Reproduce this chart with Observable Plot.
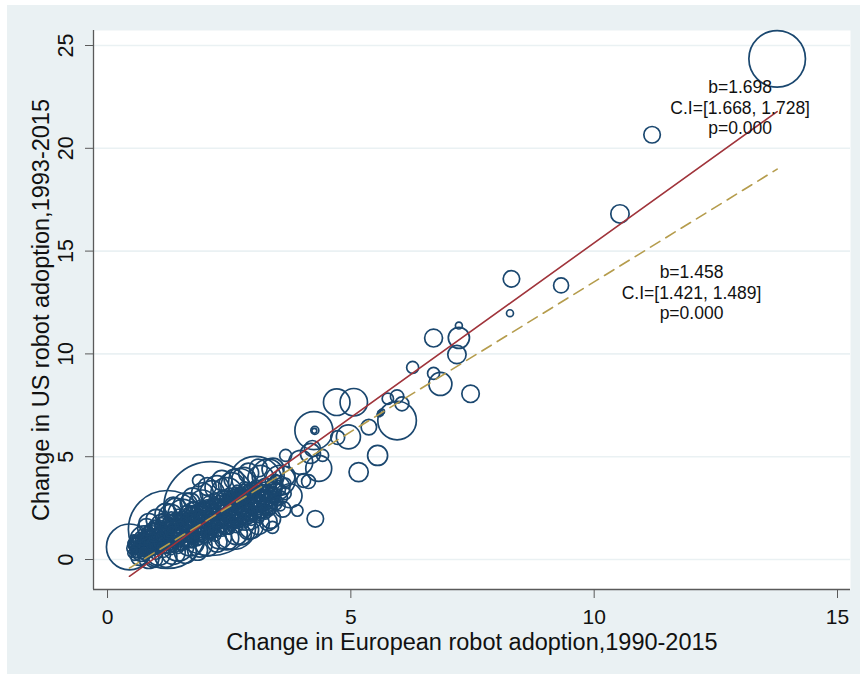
<!DOCTYPE html>
<html>
<head>
<meta charset="utf-8">
<script src="https://cdn.jsdelivr.net/npm/d3@7"></script>
<script src="https://cdn.jsdelivr.net/npm/@observablehq/plot@0.6"></script>
<style>
  html, body { margin: 0; padding: 0; background: #ffffff; }
  #wrap { position: relative; width: 860px; height: 674px; overflow: hidden; }
  #panel { position: absolute; left: 7px; top: 5px; right: 0; bottom: 0; background: #eaf1f3; }
  #chart { position: absolute; left: 0; top: 0; }
</style>
</head>
<body>
<div id="wrap"><div id="panel"></div><div id="chart"></div></div>
<script>
// Change in robot adoption by industry: Europe (1990-2015) vs US (1993-2015),
// bubble area proportional to industry weight.

const euroChange = [
  // isolated industries
  13.76, 11.19, 10.53, 8.30, 9.32, 8.27, 7.22, 7.22, 7.18, 7.46,
  6.84, 6.70, 6.70, 6.27, 5.95, 5.76, 5.95, 6.05, 5.61, 5.58,
  5.64, 4.71, 5.06, 4.24, 4.26, 4.25, 5.37, 4.95, 4.73, 5.55,
  5.16, 4.27, 3.90, 3.66, 3.97, 4.34, 4.13, 4.21, 4.42, 4.17,
  4.03, 3.39,
  // larger industries in the main cloud
  0.45, 1.23, 2.12, 0.75, 0.95, 0.70, 1.05, 1.45, 1.70, 1.55,
  1.30, 1.87, 1.95, 2.30, 2.59, 2.45, 2.70, 3.04, 2.95, 3.35,
  3.30, 3.55, 3.20, 3.75, 3.60, 2.85, 1.80, 2.40, 1.10, 0.60,
  0.85, 1.40, 1.70, 2.15, 2.60, 3.10, 0.95, 1.90, 2.75,
  // small industries in the main cloud
  0.50, 0.52, 0.49,
  0.56, 0.55, 0.57, 0.54,
  0.62, 0.63, 0.61, 0.64,
  0.70, 0.71, 0.69, 0.72, 0.70,
  0.78, 0.77, 0.79, 0.78,
  0.85, 0.86, 0.84, 0.87, 0.85,
  0.93, 0.92, 0.94, 0.93, 0.95,
  1.00, 1.01, 0.99, 1.02, 1.00,
  1.08, 1.07, 1.09, 1.08, 1.10,
  1.15, 1.16, 1.14, 1.15, 1.17, 1.15,
  1.23, 1.22, 1.24, 1.23, 1.25,
  1.30, 1.31, 1.29, 1.32, 1.30, 1.31,
  1.38, 1.37, 1.39, 1.38, 1.40,
  1.45, 1.46, 1.44, 1.45, 1.47, 1.45,
  1.53, 1.52, 1.54, 1.53, 1.55,
  1.60, 1.61, 1.59, 1.62, 1.60, 1.61,
  1.68, 1.67, 1.69, 1.68, 1.70,
  1.75, 1.76, 1.74, 1.77, 1.75, 1.76,
  1.83, 1.82, 1.84, 1.83, 1.85,
  1.90, 1.91, 1.89, 1.92, 1.90, 1.91,
  1.98, 1.97, 1.99, 1.98, 2.00,
  2.05, 2.06, 2.04, 2.07, 2.05, 2.06,
  2.13, 2.12, 2.14, 2.13, 2.15,
  2.20, 2.21, 2.19, 2.22, 2.20, 2.21,
  2.28, 2.27, 2.29, 2.28, 2.30,
  2.35, 2.36, 2.34, 2.37, 2.35, 2.36,
  2.43, 2.42, 2.44, 2.43, 2.45,
  2.50, 2.51, 2.49, 2.52, 2.50, 2.51,
  2.58, 2.57, 2.59, 2.58, 2.60,
  2.65, 2.66, 2.64, 2.67, 2.65, 2.66,
  2.73, 2.72, 2.74, 2.73, 2.75,
  2.80, 2.81, 2.79, 2.82, 2.80, 2.81,
  2.88, 2.87, 2.89, 2.88, 2.90,
  2.95, 2.96, 2.94, 2.97, 2.95,
  3.03, 3.02, 3.04, 3.03, 3.05,
  3.10, 3.11, 3.09, 3.12, 3.10,
  3.18, 3.17, 3.19, 3.18,
  3.25, 3.26, 3.24, 3.27, 3.25,
  3.35, 3.34, 3.36, 3.35,
  3.45, 3.44, 3.46, 3.45,
  3.55, 3.56, 3.54,
  3.65, 3.66,
  // more small industries in the main cloud
  0.53, 0.53,
  0.59, 0.59, 0.60,
  0.66, 0.67, 0.65,
  0.74, 0.73, 0.75, 0.74,
  0.82, 0.81, 0.83, 0.82,
  0.89, 0.90, 0.88, 0.89, 0.91,
  0.97, 0.96, 0.98, 0.97,
  1.04, 1.05, 1.03, 1.04, 1.06,
  1.12, 1.11, 1.13, 1.12, 1.14,
  1.19, 1.20, 1.18, 1.19, 1.21,
  1.27, 1.26, 1.28, 1.27, 1.29,
  1.34, 1.35, 1.33, 1.34, 1.36,
  1.42, 1.41, 1.43, 1.42, 1.44,
  1.49, 1.50, 1.48, 1.49, 1.51,
  1.57, 1.56, 1.58, 1.57, 1.59,
  1.64, 1.65, 1.63, 1.64, 1.66,
  1.72, 1.71, 1.73, 1.72, 1.74,
  1.79, 1.80, 1.78, 1.79, 1.81,
  1.87, 1.86, 1.88, 1.87, 1.89,
  1.94, 1.95, 1.93, 1.94, 1.96,
  2.02, 2.01, 2.03, 2.02, 2.04,
  2.09, 2.10, 2.08, 2.09, 2.11,
  2.17, 2.16, 2.18, 2.17, 2.19,
  2.24, 2.25, 2.23, 2.24, 2.26,
  2.32, 2.31, 2.33, 2.32, 2.34,
  2.39, 2.40, 2.38, 2.39, 2.41,
  2.47, 2.46, 2.48, 2.47, 2.49,
  2.54, 2.55, 2.53, 2.54, 2.56,
  2.62, 2.61, 2.63, 2.62, 2.64,
  2.69, 2.70, 2.68, 2.69, 2.71,
  2.77, 2.76, 2.78, 2.77, 2.79,
  2.84, 2.85, 2.83, 2.84, 2.86,
  2.92, 2.91, 2.93, 2.92,
  2.99, 3.00, 2.98, 2.99, 3.01,
  3.07, 3.06, 3.08, 3.07,
  3.14, 3.15, 3.13, 3.14,
  3.22, 3.21, 3.23, 3.22,
  3.30, 3.31, 3.29, 3.30,
  3.40, 3.39, 3.41, 3.40,
  3.50, 3.49, 3.51,
  // mid-sized industries on the edges of the cloud
  0.80, 1.00, 1.20, 1.35, 1.60, 1.75, 1.95, 2.05, 2.25, 2.35,
  2.55, 2.80, 2.90, 3.15, 3.40, 3.50, 3.25, 3.65,
  0.65, 0.85, 1.20, 1.35, 1.60, 1.85, 2.05, 2.25, 2.45, 2.65,
  2.90, 3.10, 3.30,
  1.50, 2.00, 2.50, 3.00, 1.00, 2.70
];

const usChange = [
  24.35, 20.66, 16.81, 13.65, 13.33, 11.98, 11.38, 10.78, 9.97, 8.06,
  8.54, 10.77, 9.05, 9.34, 6.76, 7.82, 7.93, 7.57, 7.12, 7.04,
  7.20, 7.65, 7.65, 6.27, 6.28, 6.26, 6.44, 5.96, 5.93, 5.06,
  4.25, 1.98, 2.38, 5.06, 4.72, 4.43, 3.79, 5.40, 5.06, 5.16,
  3.84, 1.56,
  0.61, 1.46, 2.48, 0.95, 1.20, 0.40, 0.30, 0.70, 0.85, 2.20,
  2.10, 3.84, 2.75, 1.10, 1.56, 3.20, 3.55, 3.70, 1.60, 2.00,
  4.10, 3.85, 2.70, 3.10, 2.45, 2.40, 1.90, 2.60, 1.70, 0.80,
  1.75, 2.45, 2.75, 3.25, 3.90, 4.45, 0.05, 0.70, 1.20,
  0.30, 0.55, 0.80,
  0.20, 0.45, 0.70, 1.00,
  0.35, 0.60, 0.85, 1.15,
  0.25, 0.50, 0.75, 1.00, 1.30,
  0.40, 0.65, 0.95, 1.25,
  0.30, 0.55, 0.85, 1.10, 1.45,
  0.45, 0.75, 1.05, 1.35, 1.70,
  0.35, 0.65, 0.95, 1.25, 1.60,
  0.50, 0.80, 1.10, 1.40, 1.80,
  0.40, 0.70, 1.00, 1.30, 1.65, 2.00,
  0.55, 0.90, 1.20, 1.50, 1.85,
  0.45, 0.75, 1.05, 1.40, 1.70, 2.10,
  0.65, 0.95, 1.25, 1.60, 1.95,
  0.55, 0.85, 1.15, 1.50, 1.85, 2.25,
  0.75, 1.05, 1.40, 1.75, 2.10,
  0.70, 1.00, 1.30, 1.65, 2.00, 2.40,
  0.85, 1.20, 1.55, 1.90, 2.30,
  0.80, 1.10, 1.45, 1.80, 2.15, 2.55,
  1.00, 1.35, 1.70, 2.05, 2.45,
  0.95, 1.25, 1.60, 1.95, 2.30, 2.70,
  1.10, 1.45, 1.80, 2.15, 2.55,
  1.05, 1.35, 1.70, 2.05, 2.40, 2.85,
  1.25, 1.60, 1.95, 2.30, 2.70,
  1.20, 1.50, 1.85, 2.20, 2.55, 3.00,
  1.40, 1.75, 2.10, 2.45, 2.85,
  1.35, 1.65, 2.00, 2.35, 2.70, 3.10,
  1.55, 1.90, 2.25, 2.60, 3.00,
  1.50, 1.80, 2.15, 2.50, 2.85, 3.25,
  1.70, 2.05, 2.40, 2.75, 3.15,
  1.60, 1.95, 2.30, 2.65, 3.00, 3.40,
  1.85, 2.20, 2.55, 2.90, 3.30,
  1.75, 2.10, 2.45, 2.80, 3.15, 3.55,
  2.00, 2.35, 2.70, 3.05, 3.45,
  1.90, 2.25, 2.60, 2.95, 3.35,
  2.15, 2.50, 2.85, 3.20, 3.60,
  2.05, 2.40, 2.75, 3.10, 3.50,
  2.30, 2.65, 3.00, 3.40,
  2.20, 2.55, 2.90, 3.30, 3.75,
  2.45, 2.85, 3.20, 3.60,
  2.70, 3.05, 3.45, 3.90,
  2.60, 3.00, 3.40,
  3.20, 3.70,
  0.42, 0.68,
  0.30, 0.58, 0.88,
  0.48, 0.72, 1.02,
  0.38, 0.62, 0.88, 1.15,
  0.50, 0.78, 1.05, 1.35,
  0.42, 0.70, 0.98, 1.25, 1.58,
  0.58, 0.88, 1.18, 1.50,
  0.48, 0.78, 1.08, 1.40, 1.72,
  0.62, 0.92, 1.22, 1.55, 1.90,
  0.55, 0.82, 1.12, 1.42, 1.78,
  0.68, 1.00, 1.32, 1.65, 1.98,
  0.60, 0.88, 1.18, 1.52, 1.85,
  0.78, 1.08, 1.38, 1.72, 2.08,
  0.68, 0.98, 1.30, 1.65, 2.00,
  0.88, 1.20, 1.52, 1.88, 2.25,
  0.82, 1.12, 1.45, 1.80, 2.15,
  1.00, 1.32, 1.68, 2.02, 2.40,
  0.95, 1.25, 1.60, 1.95, 2.32,
  1.12, 1.48, 1.82, 2.20, 2.58,
  1.08, 1.40, 1.75, 2.12, 2.48,
  1.25, 1.58, 1.92, 2.28, 2.68,
  1.20, 1.52, 1.88, 2.22, 2.60,
  1.38, 1.72, 2.08, 2.45, 2.85,
  1.32, 1.65, 2.00, 2.35, 2.75,
  1.52, 1.88, 2.25, 2.62, 3.00,
  1.48, 1.80, 2.15, 2.52, 2.90,
  1.68, 2.02, 2.40, 2.78, 3.15,
  1.62, 1.95, 2.32, 2.68, 3.05,
  1.82, 2.18, 2.55, 2.92, 3.30,
  1.78, 2.12, 2.48, 2.82, 3.20,
  1.98, 2.35, 2.70, 3.08, 3.45,
  1.92, 2.25, 2.60, 2.98, 3.35,
  2.12, 2.48, 2.85, 3.22,
  2.05, 2.40, 2.75, 3.12, 3.50,
  2.28, 2.62, 2.98, 3.35,
  2.22, 2.55, 2.90, 3.28,
  2.42, 2.78, 3.15, 3.55,
  2.38, 2.70, 3.05, 3.45,
  2.58, 2.95, 3.32, 3.75,
  2.85, 3.22, 3.62,
  1.55, 1.95, 2.20, 2.60, 2.65, 3.00, 3.20, 3.55, 3.50, 3.85,
  3.60, 3.90, 4.20, 3.95, 4.40, 3.50, 3.40, 4.05,
  0.10, 0.05, 0.15, 0.35, 0.35, 0.45, 0.75, 0.85, 1.05, 1.25,
  1.45, 1.75, 1.85,
  1.30, 1.80, 2.20, 2.90, 0.80, 2.80
];

const industryWeight = [
  200, 17, 21, 17, 14, 3, 3, 28, 21, 19,
  33, 20, 9, 9, 93, 8, 11, 12, 2, 1,
  1.5, 44, 47, 90, 4, 1.5, 15, 36, 12, 25,
  23, 17, 8, 9, 36, 42, 12, 16, 9, 25,
  12, 9,
  132, 380, 552, 49, 36, 25, 36, 64, 49, 56,
  36, 9, 42, 36, 121, 64, 81, 182, 36, 25,
  64, 56, 49, 36, 16, 100, 81, 56, 25, 16,
  25, 30, 25, 36, 25, 20, 20, 36, 25,
  4, 9, 3,
  6, 3, 12, 4,
  8, 5, 10, 3,
  5, 14, 4, 7, 3,
  9, 6, 11, 5,
  4, 16, 5, 8, 4,
  7, 10, 4, 9, 5,
  12, 5, 8, 6, 10,
  6, 13, 4, 7, 6,
  9, 5, 11, 8, 4, 7,
  6, 9, 5, 12, 6,
  5, 14, 7, 4, 9, 5,
  10, 5, 8, 6, 11,
  7, 4, 12, 6, 8, 4,
  9, 6, 10, 5, 7,
  5, 11, 7, 9, 6, 5,
  8, 5, 13, 7, 9,
  6, 10, 6, 8, 5, 7,
  12, 7, 5, 10, 6,
  5, 8, 11, 6, 9, 4,
  9, 6, 10, 5, 8,
  6, 12, 7, 9, 6, 5,
  8, 5, 11, 7, 9,
  10, 6, 8, 12, 5, 6,
  7, 10, 6, 9, 7,
  5, 9, 7, 11, 6, 8,
  11, 6, 9, 7, 5,
  8, 5, 12, 7, 10, 6,
  6, 10, 6, 9, 7,
  9, 7, 11, 6, 8, 5,
  7, 9, 6, 12, 6,
  5, 11, 8, 6, 9, 6,
  9, 6, 10, 7, 5,
  6, 8, 12, 6, 9,
  10, 7, 9, 6, 8,
  7, 5, 11, 8, 6,
  9, 6, 10, 7,
  6, 12, 7, 9, 5,
  8, 6, 10, 7,
  10, 7, 9, 6,
  6, 11, 8,
  9, 7,
  3, 5,
  4, 6, 4,
  5, 7, 4,
  4, 6, 5, 4,
  5, 7, 5, 4,
  6, 5, 7, 5, 4,
  5, 6, 5, 6,
  6, 5, 7, 5, 4,
  5, 6, 5, 6, 4,
  6, 5, 7, 5, 5,
  5, 6, 5, 7, 4,
  6, 5, 6, 5, 6,
  5, 7, 5, 6, 5,
  6, 5, 6, 5, 6,
  5, 7, 5, 6, 5,
  6, 5, 6, 5, 6,
  5, 7, 5, 6, 5,
  6, 5, 6, 5, 6,
  5, 7, 5, 6, 5,
  6, 5, 6, 5, 6,
  5, 7, 5, 6, 5,
  6, 5, 6, 5, 6,
  5, 7, 5, 6, 5,
  6, 5, 6, 5, 6,
  5, 7, 5, 6, 5,
  6, 5, 6, 5, 6,
  5, 7, 5, 6, 5,
  6, 5, 6, 5, 6,
  5, 7, 5, 6, 5,
  6, 5, 6, 5, 6,
  5, 7, 5, 6, 5,
  6, 5, 6, 5, 6,
  5, 7, 5, 6,
  6, 5, 6, 5, 5,
  5, 7, 5, 6,
  6, 5, 6, 5,
  5, 7, 5, 5,
  6, 5, 6, 5,
  5, 6, 5, 5,
  6, 5, 5,
  20, 25, 30, 20, 36, 25, 30, 20, 36, 25,
  42, 36, 25, 42, 30, 36, 30, 25,
  16, 25, 30, 36, 30, 25, 36, 25, 36, 30,
  25, 30, 20,
  30, 36, 42, 36, 25, 30
];

// Weighted OLS fits: all industries (solid) and the second specification (dashed)
const fitNames = ["all", "alt"];
const fitSlope = [1.698, 1.458];
const fitIntercept = [-1.58, -1.075];
const fitCiLow = [1.668, 1.421];
const fitCiHigh = [1.728, 1.489];
const fitPValue = [0.000, 0.000];

const xTicks = [0, 5, 10, 15];
const yTicks = [0, 5, 10, 15, 20, 25];
const xTitle = "Change in European robot adoption,1990-2015";
const yTitle = "Change in US robot adoption,1993-2015";

const industries = euroChange.map((x, i) => ({x, y: usChange[i], w: industryWeight[i]}));

const xSpan = d3.extent(euroChange);
const fitLines = fitNames.map((name, k) =>
  xSpan.map(x => ({name, x, y: fitIntercept[k] + fitSlope[k] * x}))
);

const statText = fitNames.map((name, k) =>
  `b=${fitSlope[k].toFixed(3)}\nC.I=[${fitCiLow[k].toFixed(3)}, ${fitCiHigh[k].toFixed(3)}]\np=${fitPValue[k].toFixed(3)}`
);
// where each block of statistics sits, in data units
const statAnchor = [{x: 13, y: 22}, {x: 12, y: 13}];

const navy = "#1a476f";
const gridColor = "#eaf1f3";
const axisColor = "#5a5a5a";
const textColor = "#111111";

const chart = Plot.plot({
  width: 860,
  height: 674,
  marginLeft: 93,
  marginRight: 10,
  marginTop: 30,
  marginBottom: 85,
  x: {domain: [-0.288, 15.267]},
  y: {domain: [-1.459, 25.73]},
  r: {type: "sqrt", domain: [0, 100], range: [0, 20]},
  style: {background: "transparent", fontFamily: "'Liberation Sans', Arial, sans-serif", overflow: "visible"},
  marks: [
    Plot.frame({fill: "white", stroke: null}),
    Plot.ruleY(yTicks, {stroke: gridColor, strokeWidth: 1.6}),
    Plot.dot(industries, {x: "x", y: "y", r: "w", stroke: navy, strokeWidth: 1.7, fill: "none"}),
    Plot.line(fitLines[0], {x: "x", y: "y", stroke: "#a0343b", strokeWidth: 1.6}),
    Plot.line(fitLines[1], {x: "x", y: "y", stroke: "#b59c4c", strokeWidth: 1.6, strokeDasharray: "11,7"}),
    Plot.text(statText, {
      x: (d, k) => statAnchor[k].x, y: (d, k) => statAnchor[k].y, text: d => d,
      textAnchor: "middle", lineAnchor: "middle", lineHeight: 1.17, fontSize: 17.5, fill: textColor
    }),
    // axis lines
    Plot.ruleX([-0.288], {stroke: axisColor, strokeWidth: 1.3}),
    Plot.ruleY([-1.459], {stroke: axisColor, strokeWidth: 1.3}),
    // ticks
    Plot.axisX({ticks: xTicks, tickSize: 9, tickFormat: () => "", label: null, stroke: axisColor}),
    Plot.axisY({ticks: yTicks, tickSize: 8, tickFormat: () => "", label: null, stroke: axisColor}),
    // tick labels
    Plot.text(xTicks, {x: d => d, text: d => `${d}`, frameAnchor: "bottom", dy: 19.2, lineAnchor: "top", fontSize: 21, fill: textColor}),
    Plot.text(yTicks, {y: d => d, text: d => `${d}`, frameAnchor: "left", dx: -21, rotate: -90, textAnchor: "middle", lineAnchor: "bottom", fontSize: 21.5, fill: textColor}),
    // axis titles
    Plot.text([xTitle], {text: d => d, frameAnchor: "bottom", dy: 60.5, lineAnchor: "bottom", fontSize: 23.5, fill: textColor}),
    Plot.text([yTitle], {text: d => d, frameAnchor: "left", dx: -45, rotate: -90, textAnchor: "middle", lineAnchor: "bottom", fontSize: 23.5, fill: textColor})
  ]
});

document.getElementById("chart").appendChild(chart);
</script>
</body>
</html>
